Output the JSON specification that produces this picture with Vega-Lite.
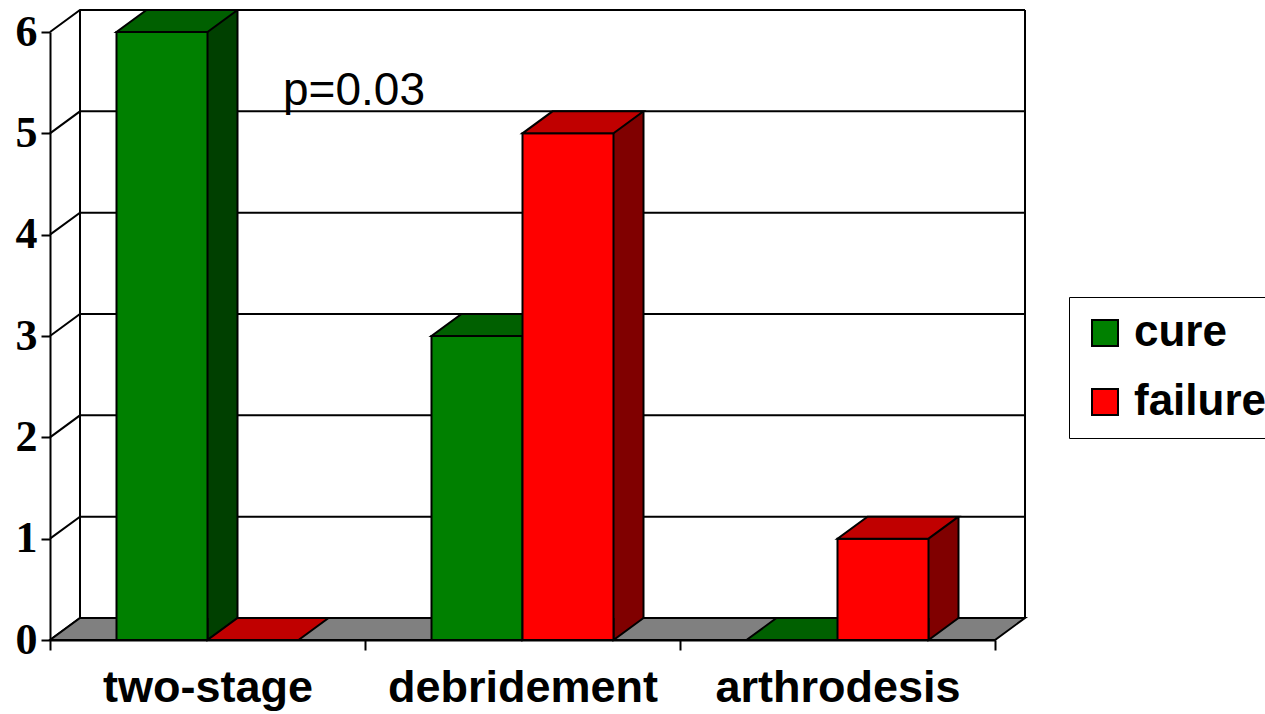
{
  "$schema": "https://vega.github.io/schema/vega-lite/v6.json",
  "width": 945,
  "height": 608,
  "autosize": {"type": "none"},
  "padding": {"left": 50, "top": 32, "right": 270, "bottom": 74},
  "background": "white",
  "config": {"view": {"stroke": null}},
  "data": {
    "values": [
      {"category": "two-stage", "outcome": "cure", "count": 6},
      {"category": "two-stage", "outcome": "failure", "count": 0},
      {"category": "debridement", "outcome": "cure", "count": 3},
      {"category": "debridement", "outcome": "failure", "count": 5},
      {"category": "arthrodesis", "outcome": "cure", "count": 0},
      {"category": "arthrodesis", "outcome": "failure", "count": 1}
    ]
  },
  "layer": [
    {
      "data": {"values": [{"v": 0}, {"v": 1}, {"v": 2}, {"v": 3}, {"v": 4}, {"v": 5}, {"v": 6}]},
      "mark": {"type": "point", "shape": "M0,0L30,-22L975,-22", "size": 4, "filled": false, "stroke": "black", "strokeWidth": 2, "opacity": 1},
      "encoding": {
        "x": {"datum": "two-stage", "type": "nominal", "bandPosition": 0,
          "scale": {"type": "band", "domain": ["two-stage", "debridement", "arthrodesis"], "paddingInner": 0, "paddingOuter": 0},
          "axis": {"title": null, "labelAngle": 0, "labelLimit": 0, "labelFont": "Liberation Sans", "labelFontWeight": "bold", "labelFontSize": 45, "labelColor": "black", "labelPadding": 15, "tickBand": "extent", "tickSize": 10, "tickWidth": 2, "tickColor": "black", "domainColor": "black", "domainWidth": 2, "grid": false}},
        "y": {"field": "v", "type": "quantitative",
          "scale": {"domain": [0, 6], "nice": false, "zero": true},
          "axis": {"title": null, "values": [0, 1, 2, 3, 4, 5, 6], "format": "d", "labelFont": "Liberation Serif", "labelFontWeight": "bold", "labelFontSize": 44, "labelColor": "black", "labelPadding": 4, "tickSize": 9, "tickWidth": 2, "tickColor": "black", "domainColor": "black", "domainWidth": 2, "grid": false}}
      }
    },
    {
      "data": {"values": [{"w": "left"}]},
      "mark": {"type": "rule", "stroke": "black", "strokeWidth": 2, "xOffset": 30, "yOffset": -22, "y2Offset": -22},
      "encoding": {
        "x": {"datum": "two-stage", "type": "nominal", "bandPosition": 0},
        "y": {"datum": 0, "type": "quantitative"},
        "y2": {"datum": 6}
      }
    },
    {
      "data": {"values": [{"w": "right"}]},
      "mark": {"type": "rule", "stroke": "black", "strokeWidth": 2, "xOffset": 30, "yOffset": -22, "y2Offset": -22},
      "encoding": {
        "x": {"datum": "arthrodesis", "type": "nominal", "bandPosition": 1},
        "y": {"datum": 0, "type": "quantitative"},
        "y2": {"datum": 6}
      }
    },
    {
      "data": {"values": [{"w": "floor"}]},
      "mark": {"type": "point", "shape": "M0,0L945,0L975,-22L30,-22Z", "size": 4, "filled": true, "fill": "#808080", "stroke": "black", "strokeWidth": 2, "opacity": 1},
      "encoding": {
        "x": {"datum": "two-stage", "type": "nominal", "bandPosition": 0},
        "y": {"datum": 0, "type": "quantitative"}
      }
    },
    {
      "transform": [{"filter": "datum.outcome === 'cure' && datum.count > 0"}],
      "mark": {"type": "rule", "stroke": "#004000", "strokeWidth": 30, "strokeCap": "butt", "xOffset": 15, "yOffset": -22, "y2Offset": -22},
      "encoding": {
        "x": {"field": "category", "type": "nominal"},
        "y": {"field": "count", "type": "quantitative"},
        "y2": {"datum": 0}
      }
    },
    {
      "transform": [{"filter": "datum.outcome === 'cure' && datum.count > 0"}],
      "mark": {"type": "point", "shape": "M0,-22L0,0L30,-22", "size": 4, "filled": true, "fill": "#004000", "stroke": "black", "strokeWidth": 2, "opacity": 1, "xOffset": 0},
      "encoding": {
        "x": {"field": "category", "type": "nominal"},
        "y": {"datum": 0, "type": "quantitative"}
      }
    },
    {
      "transform": [{"filter": "datum.outcome === 'cure' && datum.count > 0"}],
      "mark": {"type": "rule", "stroke": "black", "strokeWidth": 2, "xOffset": 30, "yOffset": -22, "y2Offset": -22},
      "encoding": {
        "x": {"field": "category", "type": "nominal"},
        "y": {"field": "count", "type": "quantitative"},
        "y2": {"datum": 0}
      }
    },
    {
      "transform": [{"filter": "datum.outcome === 'cure'"}],
      "mark": {"type": "bar", "width": 91, "xOffset": -45.5, "stroke": "black", "strokeWidth": 2, "opacity": 1},
      "encoding": {
        "x": {"field": "category", "type": "nominal"},
        "y": {"field": "count", "type": "quantitative"},
        "fill": {
          "field": "outcome", "type": "nominal",
          "scale": {"domain": ["cure", "failure"], "range": ["#008000", "#FF0000"]},
          "legend": {"title": null, "orient": "none", "legendX": 1019, "legendY": 265, "symbolType": "square", "symbolSize": 676, "symbolStrokeColor": "black", "symbolStrokeWidth": 2, "symbolOpacity": 1, "labelFont": "Liberation Sans", "labelFontWeight": "bold", "labelFontSize": 44, "labelColor": "black", "labelOffset": 7, "padding": 14, "rowPadding": 25, "strokeColor": "black", "fillColor": "white"}
        }
      }
    },
    {
      "transform": [{"filter": "datum.outcome === 'cure'"}],
      "mark": {"type": "point", "shape": "M0,0L91,0L121,-22L30,-22Z", "size": 4, "filled": true, "fill": "#006000", "stroke": "black", "strokeWidth": 2, "opacity": 1, "xOffset": -91},
      "encoding": {
        "x": {"field": "category", "type": "nominal"},
        "y": {"field": "count", "type": "quantitative"}
      }
    },
    {
      "transform": [{"filter": "datum.outcome === 'failure' && datum.count > 0"}],
      "mark": {"type": "rule", "stroke": "#800000", "strokeWidth": 30, "strokeCap": "butt", "xOffset": 106, "yOffset": -22, "y2Offset": -22},
      "encoding": {
        "x": {"field": "category", "type": "nominal"},
        "y": {"field": "count", "type": "quantitative"},
        "y2": {"datum": 0}
      }
    },
    {
      "transform": [{"filter": "datum.outcome === 'failure' && datum.count > 0"}],
      "mark": {"type": "point", "shape": "M0,-22L0,0L30,-22", "size": 4, "filled": true, "fill": "#800000", "stroke": "black", "strokeWidth": 2, "opacity": 1, "xOffset": 91},
      "encoding": {
        "x": {"field": "category", "type": "nominal"},
        "y": {"datum": 0, "type": "quantitative"}
      }
    },
    {
      "transform": [{"filter": "datum.outcome === 'failure' && datum.count > 0"}],
      "mark": {"type": "rule", "stroke": "black", "strokeWidth": 2, "xOffset": 121, "yOffset": -22, "y2Offset": -22},
      "encoding": {
        "x": {"field": "category", "type": "nominal"},
        "y": {"field": "count", "type": "quantitative"},
        "y2": {"datum": 0}
      }
    },
    {
      "transform": [{"filter": "datum.outcome === 'failure'"}],
      "mark": {"type": "bar", "width": 91, "xOffset": 45.5, "stroke": "black", "strokeWidth": 2, "opacity": 1},
      "encoding": {
        "x": {"field": "category", "type": "nominal"},
        "y": {"field": "count", "type": "quantitative"},
        "fill": {"field": "outcome", "type": "nominal", "scale": {"domain": ["cure", "failure"], "range": ["#008000", "#FF0000"]}}
      }
    },
    {
      "transform": [{"filter": "datum.outcome === 'failure'"}],
      "mark": {"type": "point", "shape": "M0,0L91,0L121,-22L30,-22Z", "size": 4, "filled": true, "fill": "#C00000", "stroke": "black", "strokeWidth": 2, "opacity": 1, "xOffset": 0},
      "encoding": {
        "x": {"field": "category", "type": "nominal"},
        "y": {"field": "count", "type": "quantitative"}
      }
    },
    {
      "data": {"values": [{"label": "p=0.03"}]},
      "mark": {"type": "text", "font": "Liberation Sans", "fontSize": 46, "align": "center", "baseline": "alphabetic", "dx": -11, "color": "black"},
      "encoding": {
        "x": {"datum": "debridement", "type": "nominal", "bandPosition": 0},
        "y": {"datum": 5.28, "type": "quantitative"},
        "text": {"field": "label"}
      }
    }
  ]
}
